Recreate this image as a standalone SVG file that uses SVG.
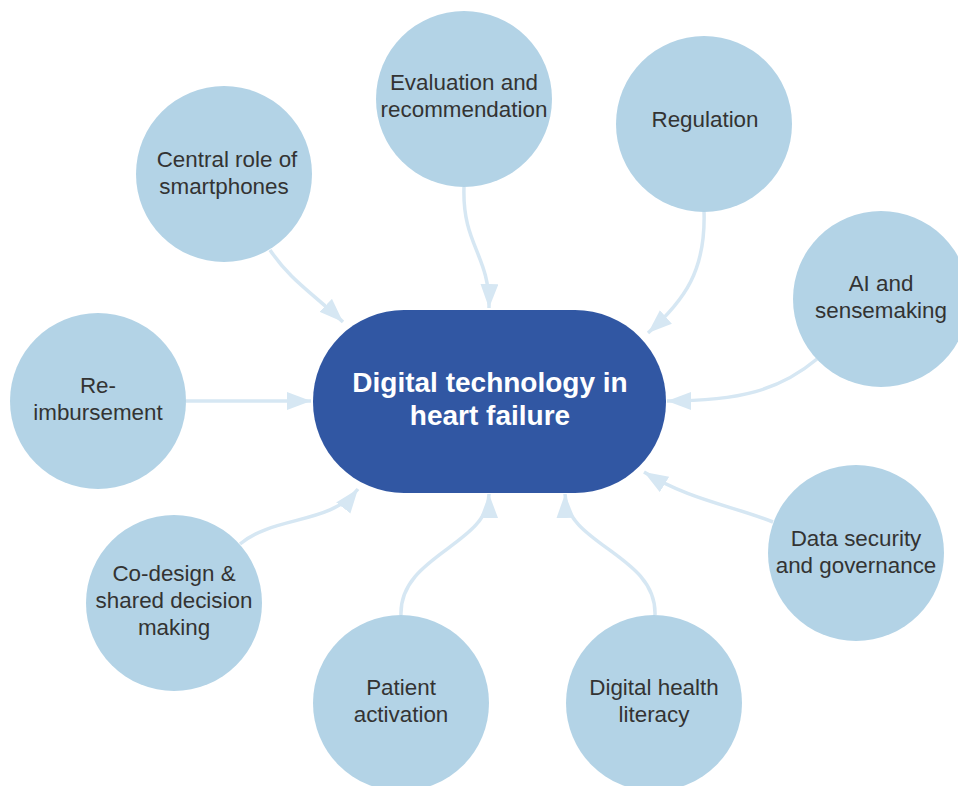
<svg xmlns="http://www.w3.org/2000/svg" width="958" height="786" viewBox="0 0 958 786">
<style>
.n{fill:#b3d3e6}
.t{font-family:"Liberation Sans",Arial,sans-serif;font-size:22.4px;fill:#333;text-anchor:middle}
.c{fill:#3157a3}
.ct{font-family:"Liberation Sans",Arial,sans-serif;font-size:28px;font-weight:bold;fill:#fff;text-anchor:middle}
.e{fill:none;stroke:#d6e7f3;stroke-width:3.5}
</style>
<defs>
<marker id="a" markerUnits="userSpaceOnUse" markerWidth="26" markerHeight="20" refX="24" refY="9" orient="auto">
<path d="M0,0 L24,9 L0,18 z" fill="#d6e7f3"/>
</marker>
</defs>
<rect width="958" height="786" fill="#fff"/>
<g id="connectors">
<path class="e" marker-end="url(#a)" d="M270,250 C290,280 315,295 343,322"/>
<path class="e" marker-end="url(#a)" d="M464,187 C462,245 490,255 489,308"/>
<path class="e" marker-end="url(#a)" d="M704,211 C706,270 685,300 648,333"/>
<path class="e" marker-end="url(#a)" d="M817,359 C780,390 740,401 667,401"/>
<path class="e" marker-end="url(#a)" d="M186,401 L311,401"/>
<path class="e" marker-end="url(#a)" d="M240,544 C275,515 330,525 358,489"/>
<path class="e" marker-end="url(#a)" d="M401,615 C399,555 489,545 489,494"/>
<path class="e" marker-end="url(#a)" d="M655,615 C657,555 566,545 565,494"/>
<path class="e" marker-end="url(#a)" d="M773,522 C730,505 690,500 644,472"/>
</g>
<g id="center">
<rect class="c" x="313" y="310" width="353" height="183" rx="91" ry="91"/>
<text class="ct" x="490" y="392">Digital technology in</text>
<text class="ct" x="490" y="425">heart failure</text>
</g>
<g id="smartphones">
<circle class="n" cx="224" cy="174" r="88"/>
<text class="t" x="227" y="167">Central role of</text>
<text class="t" x="224" y="194">smartphones</text>
</g>
<g id="evaluation">
<circle class="n" cx="464" cy="99" r="88"/>
<text class="t" x="464" y="90">Evaluation and</text>
<text class="t" x="464" y="117">recommendation</text>
</g>
<g id="regulation">
<circle class="n" cx="704" cy="124" r="88"/>
<text class="t" x="705" y="127">Regulation</text>
</g>
<g id="ai">
<circle class="n" cx="881" cy="299" r="88"/>
<text class="t" x="881" y="291">AI and</text>
<text class="t" x="881" y="318">sensemaking</text>
</g>
<g id="reimbursement">
<circle class="n" cx="98" cy="401" r="88"/>
<text class="t" x="98" y="393">Re-</text>
<text class="t" x="98" y="420">imbursement</text>
</g>
<g id="codesign">
<circle class="n" cx="174" cy="603" r="88"/>
<text class="t" x="174" y="581">Co-design &amp;</text>
<text class="t" x="174" y="608">shared decision</text>
<text class="t" x="174" y="635">making</text>
</g>
<g id="patient">
<circle class="n" cx="401" cy="703" r="88"/>
<text class="t" x="401" y="695">Patient</text>
<text class="t" x="401" y="722">activation</text>
</g>
<g id="literacy">
<circle class="n" cx="654" cy="703" r="88"/>
<text class="t" x="654" y="695">Digital health</text>
<text class="t" x="654" y="722">literacy</text>
</g>
<g id="security">
<circle class="n" cx="856" cy="553" r="88"/>
<text class="t" x="856" y="546">Data security</text>
<text class="t" x="856" y="573">and governance</text>
</g>
</svg>
